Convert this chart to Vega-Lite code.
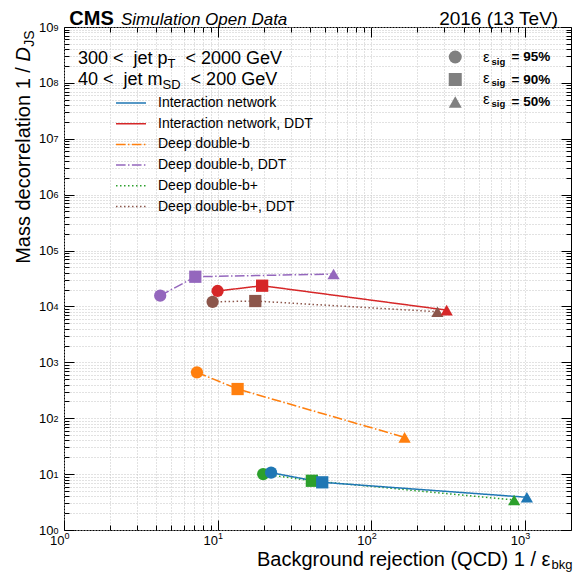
{
  "$schema": "https://vega.github.io/schema/vega-lite/v6.json",
  "width": 507,
  "height": 503,
  "autosize": {"type": "none"},
  "padding": {"left": 64, "top": 27, "right": 7, "bottom": 42},
  "background": "white",
  "config": {
    "view": {"stroke": "black", "strokeWidth": 1},
    "font": "Liberation Sans",
    "axis": {
      "labelFont": "Liberation Sans",
      "titleFont": "Liberation Sans",
      "labelColor": "black",
      "titleColor": "black",
      "tickColor": "black",
      "tickWidth": 1,
      "domain": false,
      "gridColor": "#c4c4c4",
      "gridDash": [1, 2],
      "gridWidth": 1,
      "titleFontWeight": "normal",
      "labelFlush": false,
      "labelOverlap": false,
      "labelBound": false
    },
    "legend": {"labelFont": "Liberation Sans", "labelColor": "black"}
  },
  "datasets": {
    "curves": [
      {"tagger": "Deep double-b+", "eff": "95%", "rejection": 19.8, "decorrelation": 10.0},
      {"tagger": "Deep double-b+", "eff": "90%", "rejection": 41.1, "decorrelation": 7.6},
      {"tagger": "Deep double-b+", "eff": "50%", "rejection": 853, "decorrelation": 3.44},
      {"tagger": "Deep double-b+, DDT", "eff": "95%", "rejection": 9.28, "decorrelation": 12100},
      {"tagger": "Deep double-b+, DDT", "eff": "90%", "rejection": 17.6, "decorrelation": 12500},
      {"tagger": "Deep double-b+, DDT", "eff": "50%", "rejection": 270, "decorrelation": 8040},
      {"tagger": "Deep double-b", "eff": "95%", "rejection": 7.34, "decorrelation": 662},
      {"tagger": "Deep double-b", "eff": "90%", "rejection": 13.5, "decorrelation": 333},
      {"tagger": "Deep double-b", "eff": "50%", "rejection": 165, "decorrelation": 45.5},
      {"tagger": "Deep double-b, DDT", "eff": "95%", "rejection": 4.23, "decorrelation": 15600},
      {"tagger": "Deep double-b, DDT", "eff": "90%", "rejection": 7.16, "decorrelation": 34000},
      {"tagger": "Deep double-b, DDT", "eff": "50%", "rejection": 56.9, "decorrelation": 38000},
      {"tagger": "Interaction network", "eff": "95%", "rejection": 22.3, "decorrelation": 10.6},
      {"tagger": "Interaction network", "eff": "90%", "rejection": 48, "decorrelation": 7.13},
      {"tagger": "Interaction network", "eff": "50%", "rejection": 1032, "decorrelation": 3.85},
      {"tagger": "Interaction network, DDT", "eff": "95%", "rejection": 10.0, "decorrelation": 18900},
      {"tagger": "Interaction network, DDT", "eff": "90%", "rejection": 19.5, "decorrelation": 23500},
      {"tagger": "Interaction network, DDT", "eff": "50%", "rejection": 310, "decorrelation": 8600}
    ]
  },
  "resolve": {"axis": {"x": "independent", "y": "independent"}},
  "layer": [
    {
      "data": {"name": "curves"},
      "mark": {"type": "line", "strokeWidth": 1.5},
      "encoding": {
        "x": {
          "field": "rejection", "type": "quantitative",
          "scale": {"type": "log", "domain": [1, 2000], "nice": false},
          "axis": {
            "orient": "bottom", "values": [1, 10, 100, 1000], "labelExpr": "'10'",
            "ticks": false, "grid": false, "labelFontSize": 13, "labelBaseline": "middle",
            "labelAlign": "right", "labelDx": 3, "labelPadding": 10,
            "title": "Background rejection (QCD) 1 / ε", "titleFontSize": 20,
            "titleAlign": "right", "titleBaseline": "alphabetic", "titleX": 486, "titleY": 35, "titleAngle": 0
          }
        },
        "y": {
          "field": "decorrelation", "type": "quantitative",
          "scale": {"type": "log", "domain": [1, 1000000000], "nice": false},
          "axis": {
            "orient": "left", "values": [1, 10, 100, 1000, 10000, 100000, 1000000, 10000000, 100000000, 1000000000],
            "labelExpr": "'10'", "ticks": false, "grid": false, "labelFontSize": 13,
            "labelBaseline": "middle", "labelAlign": "right", "labelPadding": 11,
            "title": "Mass decorrelation 1 /", "titleFontSize": 20, "titleAngle": 270,
            "titleAlign": "right", "titleBaseline": "alphabetic", "titleX": -35, "titleY": 39.6
          }
        },
        "color": {
          "field": "tagger", "type": "nominal",
          "scale": {
            "domain": ["Interaction network", "Interaction network, DDT", "Deep double-b", "Deep double-b, DDT", "Deep double-b+", "Deep double-b+, DDT"],
            "range": ["#1f77b4", "#d62728", "#ff7f0e", "#9467bd", "#2ca02c", "#8c564b"]
          },
          "legend": {
            "title": null, "orient": "none", "legendX": 60, "legendY": 69, "symbolType": "M-3,0H3",
            "symbolSize": 100, "symbolStrokeWidth": 1.5, "labelFontSize": 14, "labelOffset": 20,
            "rowPadding": 6.7, "padding": 0, "direction": "vertical"
          }
        },
        "strokeDash": {
          "field": "tagger", "type": "nominal",
          "scale": {
            "domain": ["Interaction network", "Interaction network, DDT", "Deep double-b", "Deep double-b, DDT", "Deep double-b+", "Deep double-b+, DDT"],
            "range": [[1, 0], [1, 0], [9.6, 2.4, 1.5, 2.4], [9.6, 2.4, 1.5, 2.4], [1.5, 2.5], [1.5, 2.5]]
          },
          "legend": {
            "title": null, "orient": "none", "legendX": 60, "legendY": 69, "symbolType": "M-3,0H3",
            "symbolSize": 100, "symbolStrokeWidth": 1.5, "labelFontSize": 14, "labelOffset": 20,
            "rowPadding": 6.7, "padding": 0, "direction": "vertical"
          }
        }
      }
    },
    {
      "data": {"name": "curves"},
      "mark": {"type": "point", "filled": true, "size": 150, "opacity": 1, "strokeWidth": 0},
      "encoding": {
        "x": {
          "field": "rejection", "type": "quantitative",
          "axis": {
            "orient": "bottom", "values": [1, 10, 100, 1000],
            "labelExpr": "'' + round(log(datum.value) / LN10)", "ticks": false, "grid": false,
            "labelFontSize": 9, "labelBaseline": "middle", "labelAlign": "left", "labelDx": 3.5, "labelPadding": 5,
            "title": "bkg", "titleFontSize": 13, "titleAlign": "left", "titleBaseline": "alphabetic",
            "titleX": 487, "titleY": 38, "titleAngle": 0
          }
        },
        "y": {
          "field": "decorrelation", "type": "quantitative",
          "axis": {
            "orient": "left", "values": [1, 10, 100, 1000, 10000, 100000, 1000000, 10000000, 100000000, 1000000000],
            "labelExpr": "'' + round(log(datum.value) / LN10)", "ticks": false, "grid": false,
            "labelFontSize": 9, "labelBaseline": "middle", "labelAlign": "left", "labelPadding": 11, "labelDy": -5,
            "title": "D", "titleFontSize": 20, "titleFontStyle": "italic", "titleAngle": 270,
            "titleAlign": "right", "titleBaseline": "alphabetic", "titleX": -35, "titleY": 19.5
          }
        },
        "color": {"field": "tagger", "type": "nominal", "legend": null},
        "shape": {
          "field": "eff", "type": "nominal",
          "scale": {"domain": ["95%", "90%", "50%"], "range": ["circle", "square", "triangle-up"]},
          "legend": {
            "title": null, "orient": "none", "legendX": 384.5, "legendY": 23.25, "symbolSize": 169,
            "symbolFillColor": "#808080", "symbolStrokeColor": "#808080", "symbolStrokeWidth": 0,
            "labelFontSize": 13.5, "labelFontWeight": "bold", "labelOffset": 49.5, "rowPadding": 7.5,
            "padding": 0, "labelExpr": "'= ' + datum.label", "direction": "vertical"
          }
        }
      }
    },
    {
      "data": {"values": [{}]},
      "mark": {"type": "text", "text": "CMS", "fontSize": 20, "fontWeight": "bold", "align": "left", "baseline": "alphabetic", "color": "black"},
      "encoding": {
        "x": {"datum": 1.083, "type": "quantitative",
          "axis": {"orient": "bottom", "values": [1, 10, 100, 1000], "ticks": true, "tickSize": -10, "labels": false, "grid": true, "title": null}},
        "y": {"datum": 1085000000, "type": "quantitative",
          "axis": {"orient": "left", "values": [1, 10, 100, 1000, 10000, 100000, 1000000, 10000000, 100000000, 1000000000],
            "ticks": true, "tickSize": -10, "labels": false, "grid": true,
            "title": "JS", "titleFontSize": 14, "titleAngle": 270, "titleAlign": "right", "titleBaseline": "alphabetic", "titleX": -31, "titleY": 3}}
      }
    },
    {
      "data": {"values": [{}]},
      "mark": {"type": "text", "text": "Simulation Open Data", "fontSize": 17, "fontStyle": "italic", "align": "left", "baseline": "alphabetic", "color": "black"},
      "encoding": {
        "x": {"datum": 2.35, "type": "quantitative",
          "axis": {"orient": "bottom", "values": [2, 3, 4, 5, 6, 7, 8, 9, 20, 30, 40, 50, 60, 70, 80, 90, 200, 300, 400, 500, 600, 700, 800, 900],
            "ticks": true, "tickSize": -5, "labels": false, "grid": true, "title": null}},
        "y": {"datum": 1085000000, "type": "quantitative",
          "axis": {"orient": "left", "values": [2, 3, 4, 5, 6, 7, 8, 9, 20, 30, 40, 50, 60, 70, 80, 90, 200, 300, 400, 500, 600, 700, 800, 900, 2000, 3000, 4000, 5000, 6000, 7000, 8000, 9000, 20000, 30000, 40000, 50000, 60000, 70000, 80000, 90000, 200000, 300000, 400000, 500000, 600000, 700000, 800000, 900000, 2000000, 3000000, 4000000, 5000000, 6000000, 7000000, 8000000, 9000000, 20000000, 30000000, 40000000, 50000000, 60000000, 70000000, 80000000, 90000000, 200000000, 300000000, 400000000, 500000000, 600000000, 700000000, 800000000, 900000000],
            "ticks": true, "tickSize": -5, "labels": false, "grid": true, "title": null}}
      }
    },
    {
      "data": {"values": [{}]},
      "mark": {"type": "text", "text": "2016 (13 TeV)", "fontSize": 19, "align": "right", "baseline": "alphabetic", "color": "black"},
      "encoding": {
        "x": {"datum": 1650, "type": "quantitative",
          "axis": {"orient": "top", "values": [1, 10, 100, 1000], "ticks": true, "tickSize": -10, "labels": false, "grid": false, "title": null}},
        "y": {"datum": 1085000000, "type": "quantitative",
          "axis": {"orient": "right", "values": [1, 10, 100, 1000, 10000, 100000, 1000000, 10000000, 100000000, 1000000000],
            "ticks": true, "tickSize": -10, "labels": false, "grid": false, "title": null}}
      }
    },
    {
      "data": {"values": [{}]},
      "mark": {"type": "text", "text": "300 <\u00a0\u00a0jet p", "fontSize": 18, "align": "left", "baseline": "alphabetic", "color": "black"},
      "encoding": {
        "x": {"datum": 1.234, "type": "quantitative",
          "axis": {"orient": "top", "values": [2, 3, 4, 5, 6, 7, 8, 9, 20, 30, 40, 50, 60, 70, 80, 90, 200, 300, 400, 500, 600, 700, 800, 900],
            "ticks": true, "tickSize": -5, "labels": false, "grid": false, "title": null}},
        "y": {"datum": 222200000, "type": "quantitative",
          "axis": {"orient": "right", "values": [2, 3, 4, 5, 6, 7, 8, 9, 20, 30, 40, 50, 60, 70, 80, 90, 200, 300, 400, 500, 600, 700, 800, 900, 2000, 3000, 4000, 5000, 6000, 7000, 8000, 9000, 20000, 30000, 40000, 50000, 60000, 70000, 80000, 90000, 200000, 300000, 400000, 500000, 600000, 700000, 800000, 900000, 2000000, 3000000, 4000000, 5000000, 6000000, 7000000, 8000000, 9000000, 20000000, 30000000, 40000000, 50000000, 60000000, 70000000, 80000000, 90000000, 200000000, 300000000, 400000000, 500000000, 600000000, 700000000, 800000000, 900000000],
            "ticks": true, "tickSize": -5, "labels": false, "grid": false, "title": null}}
      }
    },
    {
      "data": {"values": [{}]},
      "mark": {"type": "text", "text": "T", "fontSize": 13, "align": "left", "baseline": "alphabetic", "color": "black"},
      "encoding": {
        "x": {"datum": 4.727, "type": "quantitative", "axis": null},
        "y": {"datum": 188500000, "type": "quantitative", "axis": null}
      }
    },
    {
      "data": {"values": [{}]},
      "mark": {"type": "text", "text": "< 2000 GeV", "fontSize": 18, "align": "left", "baseline": "alphabetic", "color": "black"},
      "encoding": {
        "x": {"datum": 6.18, "type": "quantitative", "axis": null},
        "y": {"datum": 222200000, "type": "quantitative", "axis": null}
      }
    },
    {
      "data": {"values": [{}]},
      "mark": {"type": "text", "text": "40 <\u00a0\u00a0jet m", "fontSize": 18, "align": "left", "baseline": "alphabetic", "color": "black"},
      "encoding": {
        "x": {"datum": 1.234, "type": "quantitative", "axis": null},
        "y": {"datum": 93500000, "type": "quantitative", "axis": null}
      }
    },
    {
      "data": {"values": [{}]},
      "mark": {"type": "text", "text": "SD", "fontSize": 13, "align": "left", "baseline": "alphabetic", "color": "black"},
      "encoding": {
        "x": {"datum": 4.378, "type": "quantitative", "axis": null},
        "y": {"datum": 79340000, "type": "quantitative", "axis": null}
      }
    },
    {
      "data": {"values": [{}]},
      "mark": {"type": "text", "text": "< 200 GeV", "fontSize": 18, "align": "left", "baseline": "alphabetic", "color": "black"},
      "encoding": {
        "x": {"datum": 6.673, "type": "quantitative", "axis": null},
        "y": {"datum": 93500000, "type": "quantitative", "axis": null}
      }
    },
    {
      "data": {"values": [{}]},
      "mark": {"type": "text", "text": ["ε", "ε", "ε"], "lineHeight": 21, "fontSize": 15, "align": "left", "baseline": "alphabetic", "color": "black"},
      "encoding": {
        "x": {"datum": 534.6, "type": "quantitative", "axis": null},
        "y": {"datum": 236300000, "type": "quantitative", "axis": null}
      }
    },
    {
      "data": {"values": [{}]},
      "mark": {"type": "text", "text": ["sig", "sig", "sig"], "lineHeight": 21, "fontSize": 9.5, "fontWeight": "bold", "align": "left", "baseline": "alphabetic", "color": "black"},
      "encoding": {
        "x": {"datum": 607.4, "type": "quantitative", "axis": null},
        "y": {"datum": 208900000, "type": "quantitative", "axis": null}
      }
    }
  ]
}
